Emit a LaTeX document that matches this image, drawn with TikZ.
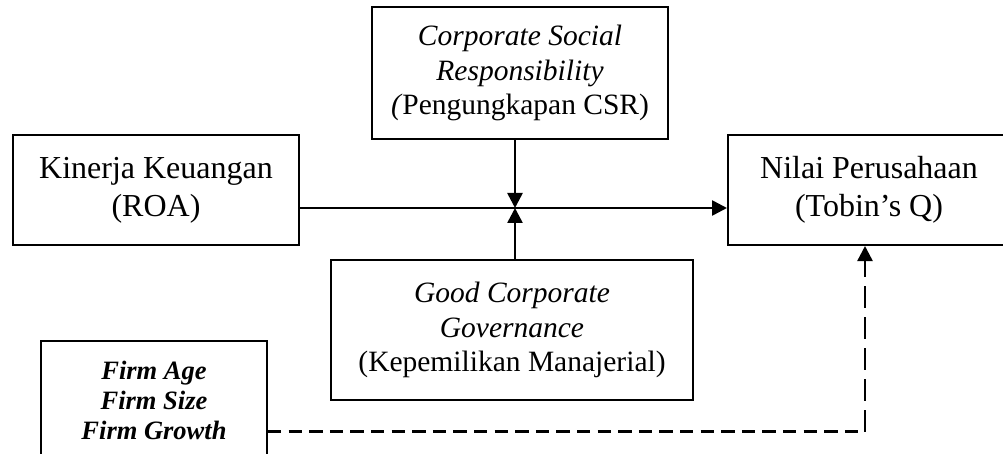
\documentclass[tikz,border=0pt]{standalone}
\usepackage{fontspec}
\setmainfont{Liberation Serif}
\usetikzlibrary{arrows.meta}
\begin{document}
\begin{tikzpicture}[x=1pt,y=-1pt,
  box/.style={draw, line width=2pt, rectangle, inner sep=0pt, align=center},
  bigtext/.style={font=\fontsize{32}{38}\selectfont},
  midtext/.style={font=\fontsize{29.5}{34.5}\selectfont},
  smalltext/.style={font=\fontsize{26.5}{30}\selectfont\bfseries\itshape},
  tip/.style={-{Triangle[length=15pt,width=15pt]}},
  solidlink/.style={line width=2.6pt, tip},
  hdash/.style={line width=2.4pt, dash pattern=on 13.3pt off 7.3pt},
  vdash/.style={line width=2.4pt, dash pattern=on 22pt off 9pt, tip}]
\clip (0,0) rectangle (1003,454);

% variable boxes
\node[box, midtext, minimum width=296pt, minimum height=132pt] (csr) at (520,73)
  {\textit{Corporate Social}\\ \textit{Responsibility}\\ \textit{(}Pengungkapan CSR)};
\node[box, bigtext, minimum width=286pt, minimum height=110pt] (roa) at (156,190)
  {Kinerja Keuangan\\ (ROA)};
\node[box, bigtext, minimum width=282pt, minimum height=110pt] (tobin) at (869,190)
  {Nilai Perusahaan\\ (Tobin’s Q)};
\node[box, midtext, minimum width=362pt, minimum height=140pt] (gcg) at (512,330)
  {\textit{Good Corporate}\\ \textit{Governance}\\ (Kepemilikan Manajerial)};
\node[box, smalltext, minimum width=226pt, minimum height=118pt] (ctrl) at (154,400)
  {Firm Age\\ Firm Size\\ Firm Growth};

% junction of the moderating paths and corner of the control path
\coordinate (mod) at (515,208);
\coordinate (bend) at (865,431.5);

% main effect and moderators
\draw[solidlink] (roa.east |- mod) -- (tobin.west |- mod);
\draw[solidlink] (mod |- csr.south) -- (mod);
\draw[solidlink] (mod |- gcg.north) -- (mod);

% control variables
\draw[hdash] (ctrl.east |- bend) -- (bend);
\draw[vdash] (bend) -- (bend |- tobin.south);
\end{tikzpicture}
\end{document}
